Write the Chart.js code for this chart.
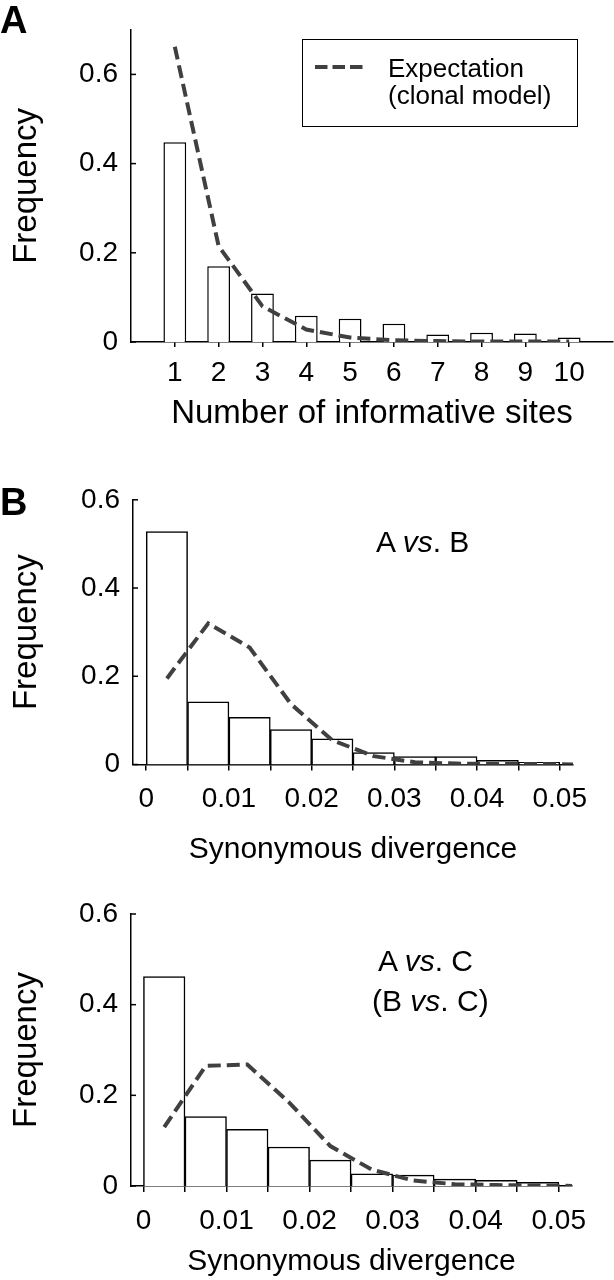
<!DOCTYPE html>
<html>
<head>
<meta charset="utf-8">
<script src="https://cdn.jsdelivr.net/npm/chart.js@4.4.1/dist/chart.umd.min.js"></script>
<style>
  body { margin: 0; background: #fff; font-family: "Liberation Sans", Arial, sans-serif; color: #000; }
  #page { position: relative; width: 614px; height: 1280px; overflow: hidden; }
  .panel { position: absolute; left: 0; }
  .tag { position: absolute; font-weight: bold; font-size: 38px; line-height: 1; }
  .note { position: absolute; font-size: 30px; line-height: 1; white-space: nowrap; }
  .leg { position: absolute; font-size: 26px; line-height: 1; white-space: nowrap; }
  #legendBox { position: absolute; left: 302px; top: 39px; width: 274px; height: 86px; border: 1.5px solid #000; }
</style>
</head>
<body>
<div id="page">
  <canvas id="chartA" class="panel" style="top:0px" width="614" height="440"></canvas>
  <canvas id="chartB" class="panel" style="top:470px" width="614" height="400"></canvas>
  <canvas id="chartC" class="panel" style="top:880px" width="614" height="400"></canvas>

  <div class="tag" style="left:0px; top:1px">A</div>
  <div class="tag" style="left:0px; top:483px">B</div>

  <div id="legendBox"></div>
  <svg style="position:absolute; left:315px; top:64px" width="48" height="6">
    <line x1="0" y1="3" x2="48" y2="3" stroke="#404040" stroke-width="4" stroke-dasharray="12.5 5"></line>
  </svg>
  <div class="leg" style="left:388px; top:55px">Expectation</div>
  <div class="leg" style="left:388px; top:82px">(clonal model)</div>

  <div class="note" style="left:376px; top:527px">A <i>vs</i>. B</div>
  <div class="note" style="left:378px; top:946px">A <i>vs</i>. C</div>
  <div class="note" style="left:372px; top:986px">(B <i>vs</i>. C)</div>
</div>

<script>
// panel A : informative sites
const sites = [1, 2, 3, 4, 5, 6, 7, 8, 9, 10];
const sitesLabels = ["1", "2", "3", "4", "5", "6", "7", "8", "9", "10"];
const observedA = [0.448, 0.170, 0.109, 0.059, 0.052, 0.041, 0.017, 0.021, 0.019, 0.010];
const expectedA = [0.662, 0.215, 0.080, 0.028, 0.010, 0.004, 0.002, 0.001, 0.001, 0.001];
const yLabelsA = ["0", "0.2", "0.4", "0.6"];

// panels B and C : synonymous divergence histograms (bin width 0.005)
const binCenters = [0.0025, 0.0075, 0.0125, 0.0175, 0.0225, 0.0275, 0.0325, 0.0375, 0.0425, 0.0475];
const expCenters = [0.0025, 0.0075, 0.0125, 0.0175, 0.0225, 0.0275, 0.0325, 0.0375, 0.0425, 0.0475, 0.0525];
const observedB = [0.528, 0.142, 0.107, 0.079, 0.058, 0.027, 0.018, 0.018, 0.0096, 0.005];
const expectedB = [0.195, 0.320, 0.265, 0.137, 0.055, 0.019, 0.005, 0.002, 0.001, 0.001, 0.0];
const observedC = [0.462, 0.153, 0.125, 0.086, 0.057, 0.027, 0.024, 0.015, 0.0125, 0.008];
const expectedC = [0.130, 0.265, 0.268, 0.185, 0.088, 0.036, 0.012, 0.004, 0.002, 0.001, 0.0];
const divLabels = ["0", "0.01", "0.02", "0.03", "0.04", "0.05"];
const yLabelsBC = ["0", "0.2", "0.4", "0.6"];

Chart.defaults.font.family = "'Liberation Sans', Arial, sans-serif";
Chart.defaults.color = "#000";
Chart.defaults.animation = false;

const LINE = "#404040";

// little ticks pointing into the plot on the y axis
const inwardTicks = {
    id: "inwardTicks",
    afterDatasetsDraw(chart) {
        const ys = chart.scales.y;
        const ctx = chart.ctx;
        const left = chart.chartArea.left;
        ctx.save();
        ctx.strokeStyle = "#000";
        ctx.lineWidth = 1.5;
        ys.ticks.forEach(t => {
            const py = ys.getPixelForValue(t.value);
            ctx.beginPath();
            ctx.moveTo(left, py);
            ctx.lineTo(left + 5, py);
            ctx.stroke();
        });
        ctx.restore();
    }
};

function pts(xs, ys) {
    return xs.map((x, i) => ({ x: x, y: ys[i] }));
}

function makePanel(id, o) {
    return new Chart(document.getElementById(id), {
        type: "bar",
        data: {
            datasets: [
                {
                    type: "line",
                    label: "Expectation (clonal model)",
                    data: pts(o.lineX, o.lineY),
                    borderColor: LINE,
                    borderWidth: 4,
                    borderDash: [13, 6],
                    pointRadius: 0,
                    tension: 0,
                    fill: false,
                    order: 0
                },
                {
                    type: "bar",
                    label: "Observed",
                    data: pts(o.barX, o.barY),
                    backgroundColor: "#fff",
                    borderColor: "#000",
                    borderWidth: 1.5,
                    barPercentage: o.barPct,
                    categoryPercentage: 1,
                    order: 1
                }
            ]
        },
        options: {
            responsive: false,
            events: [],
            layout: { padding: { top: o.padTop, right: o.padRight, left: 0, bottom: 0 } },
            plugins: { legend: { display: false }, tooltip: { enabled: false } },
            scales: {
                x: {
                    type: "linear",
                    min: o.xMin,
                    max: o.xMax,
                    offset: false,
                    grid: { drawOnChartArea: false, drawTicks: true, tickLength: o.tickLen, color: "#000", lineWidth: 1.5, offset: false },
                    border: { display: true, color: "#000", width: 1.5 },
                    ticks: {
                        stepSize: o.xStep,
                        includeBounds: false,
                        autoSkip: false,
                        maxRotation: 0,
                        padding: o.xTickPad,
                        font: { size: 28 },
                        callback: o.xLabel
                    },
                    afterBuildTicks: o.xFilter,
                    title: {
                        display: true,
                        text: o.xTitle,
                        font: { size: o.xTitleSize },
                        padding: { top: 0, bottom: o.xTitlePad }
                    },
                    afterFit: s => { s.height = o.xHeight; }
                },
                y: {
                    min: 0,
                    max: o.yMax,
                    grid: { display: false, drawTicks: false, tickLength: 0 },
                    border: { display: true, color: "#000", width: 1.5 },
                    ticks: {
                        stepSize: 0.2,
                        includeBounds: false,
                        padding: 13,
                        font: { size: 28 },
                        callback: v => o.yLabels[Math.round(v / 0.2)]
                    },
                    title: {
                        display: true,
                        text: "Frequency",
                        font: { size: 33 },
                        padding: { top: 7, bottom: 0 }
                    },
                    afterFit: s => { s.width = o.yWidth; }
                }
            }
        },
        plugins: [inwardTicks]
    });
}

makePanel("chartA", {
    lineX: sites, lineY: expectedA,
    barX: sites, barY: observedA, barPct: 0.52,
    padTop: 4, padRight: 1,
    xMin: 0, xMax: 11, xStep: 1, tickLen: 5, xTickPad: 9,
    xLabel: v => sitesLabels[sites.indexOf(v)] || "",
    xFilter: s => { s.ticks = s.ticks.filter(t => t.value >= 1 && t.value <= 10); },
    xTitle: "Number of informative sites", xTitleSize: 33, xTitlePad: 6,
    xHeight: 98, yMax: 0.7, yLabels: yLabelsA, yWidth: 131
});

function divLabel(v) {
    const k = Math.round(v / 0.005);
    return k % 2 === 0 ? (divLabels[k / 2] || "") : "";
}
function divFilter(s) {
    s.ticks = s.ticks.filter(t => t.value > -0.0001 && t.value < 0.0501);
}

makePanel("chartB", {
    lineX: expCenters, lineY: expectedB,
    barX: binCenters, barY: observedB, barPct: 1,
    padTop: 24, padRight: 41,
    xMin: -0.0016, xMax: 0.0516, xStep: 0.005, tickLen: 6, xTickPad: 12,
    xLabel: divLabel, xFilter: divFilter,
    xTitle: "Synonymous divergence", xTitleSize: 30, xTitlePad: 2,
    xHeight: 105.5, yMax: 0.6, yLabels: yLabelsBC, yWidth: 133
});

makePanel("chartC", {
    lineX: expCenters, lineY: expectedC,
    barX: binCenters, barY: observedC, barPct: 1,
    padTop: 34, padRight: 42,
    xMin: -0.0015, xMax: 0.0516, xStep: 0.005, tickLen: 6, xTickPad: 12,
    xLabel: divLabel, xFilter: divFilter,
    xTitle: "Synonymous divergence", xTitleSize: 30, xTitlePad: 0,
    xHeight: 94, yMax: 0.6, yLabels: yLabelsBC, yWidth: 131
});
</script>
</body>
</html>
